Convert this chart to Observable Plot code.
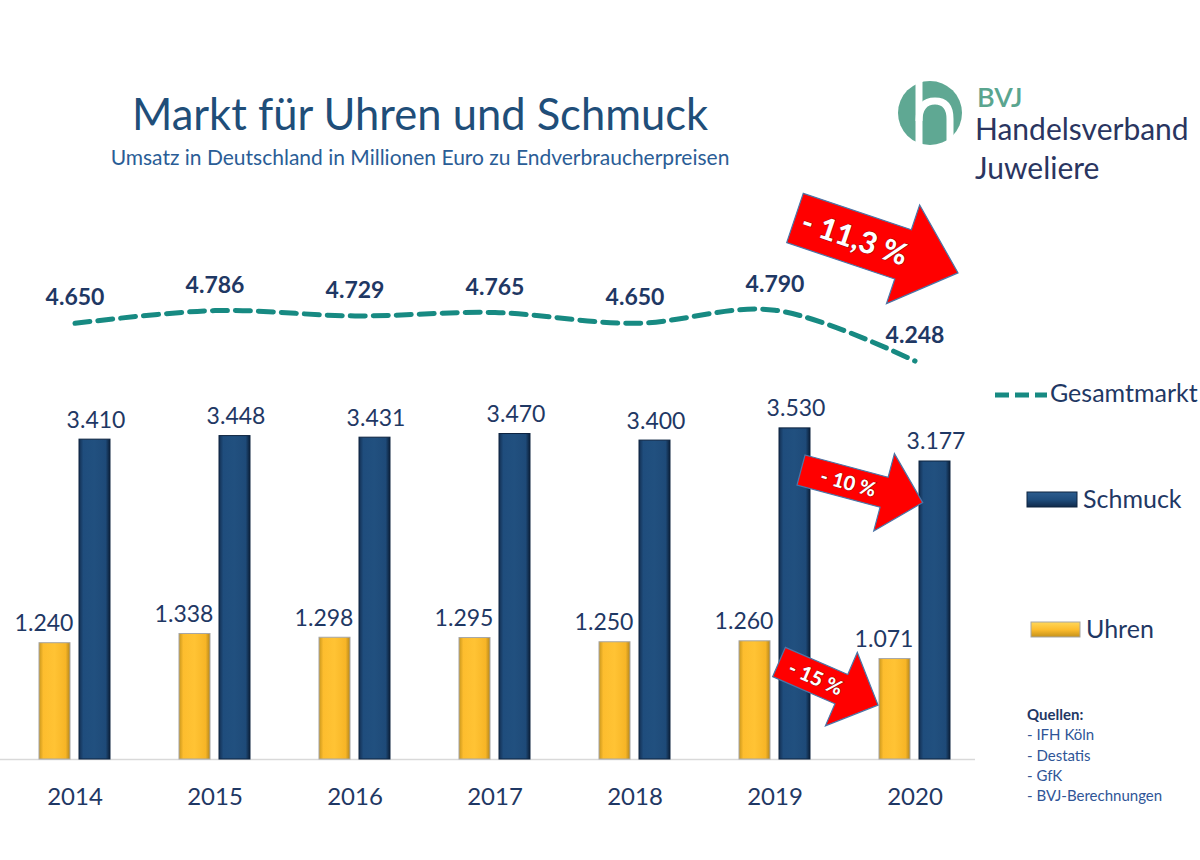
<!DOCTYPE html>
<html>
<head>
<meta charset="utf-8">
<script src="https://cdn.jsdelivr.net/npm/d3@7"></script>
<script src="https://cdn.jsdelivr.net/npm/@observablehq/plot@0.6"></script>
<style>
  html, body { margin: 0; padding: 0; background: #fff; }
  body { font-family: Lato, "Open Sans", sans-serif; }
  #wrap { position: relative; width: 1200px; height: 860px; overflow: hidden; }
  #chart { position: absolute; left: 0; top: 0; }
  .ov { position: absolute; white-space: nowrap; line-height: 1; }
  #title { left: 0; width: 840px; top: 92px; text-align: center; font-size: 43.5px; color: #1f4e79; }
  #subtitle { left: 0; width: 840px; top: 146px; text-align: center; font-size: 21px; color: #2a5d96; }
  #bvj { left: 977px; top: 83px; font-size: 27px; color: #5aa58f; font-weight: 600; }
  #hv1 { left: 975px; top: 113px; font-size: 30px; color: #2a3560; }
  #hv2 { left: 975px; top: 152px; font-size: 30px; color: #2a3560; }
  .leg { font-size: 25px; color: #1f3864; }
  #src { left: 1027px; top: 704px; font-size: 15px; color: #2f5597; line-height: 20.3px; }
  #src b { color: #1f3864; }
  #overlay { position: absolute; left: 0; top: 0; }
</style>
</head>
<body>
<div id="wrap">
  <div id="chart"></div>
  <div class="ov" id="title">Markt für Uhren und Schmuck</div>
  <div class="ov" id="subtitle">Umsatz in Deutschland in Millionen Euro zu Endverbraucherpreisen</div>
  <div class="ov" id="bvj">BVJ</div>
  <div class="ov" id="hv1">Handelsverband</div>
  <div class="ov" id="hv2">Juweliere</div>
  <div class="ov leg" style="left:1050px;top:380px;">Gesamtmarkt</div>
  <div class="ov leg" style="left:1083px;top:486px;">Schmuck</div>
  <div class="ov leg" style="left:1086px;top:616px;">Uhren</div>
  <div class="ov" id="src"><b>Quellen:</b><br>- IFH Köln<br>- Destatis<br>- GfK<br>- BVJ-Berechnungen</div>
</div>
<script>
// ---- data ----
const years   = ["2014", "2015", "2016", "2017", "2018", "2019", "2020"];
const uhren   = [1240, 1338, 1298, 1295, 1250, 1260, 1071];
const schmuck = [3410, 3448, 3431, 3470, 3400, 3530, 3177];
const gesamt  = [4650, 4786, 4729, 4765, 4650, 4790, 4248];
const seriesNames = ["Gesamtmarkt", "Schmuck", "Uhren"];
const arrowLabels = ["- 11,3 %", "- 10 %", "- 15 %"];

const de = d3.formatLocale({decimal: ",", thousands: ".", grouping: [3], currency: ["", " €"]});
const fmt = de.format(",d");

const rowsU = years.map((y, i) => ({year: y, value: uhren[i]}));
const rowsS = years.map((y, i) => ({year: y, value: schmuck[i]}));
const rowsG = years.map((y, i) => ({year: y, value: gesamt[i]}));

const navy = "#1f3864";
const teal = "#178a82";

const plot = Plot.plot({
  width: 1200,
  height: 860,
  marginLeft: 0,
  marginRight: 225,
  marginTop: 8.6,
  marginBottom: 101,
  style: {fontFamily: "Lato, 'Open Sans', sans-serif", background: "transparent", overflow: "visible"},
  x: {type: "band", domain: years, paddingInner: 0.48936, paddingOuter: 0.20213, align: 0.614, label: null},
  y: {domain: [0, 8000], axis: null},
  marks: [
    Plot.ruleY([0], {stroke: "#d9d9d9", strokeWidth: 1.5}),
    Plot.barY(rowsU, {x: "year", y: "value", insetRight: 40, fill: "url(#gradU)", stroke: "#a6a6a6", strokeWidth: 1}),
    Plot.barY(rowsS, {x: "year", y: "value", insetLeft: 40, fill: "url(#gradS)", stroke: "#0e2440", strokeWidth: 1}),
    Plot.text(rowsU, {x: "year", y: "value", text: d => fmt(d.value), dx: -31, dy: -12, lineAnchor: "bottom", fontSize: 23, fill: navy}),
    Plot.text(rowsS, {x: "year", y: "value", text: d => fmt(d.value), dx: 21, dy: -12, lineAnchor: "bottom", fontSize: 23, fill: navy}),
    Plot.line(rowsG, {x: "year", y: "value", curve: "catmull-rom", stroke: teal, strokeWidth: 5, strokeDasharray: "15,8"}),
    Plot.text(rowsG, {x: "year", y: "value", text: d => fmt(d.value), dy: -18, lineAnchor: "bottom", fontSize: 23, fontWeight: "bold", fill: navy}),
    Plot.axisX({tickSize: 0, tickPadding: 28, fontSize: 24, color: navy, label: null})
  ]
});
document.getElementById("chart").appendChild(plot);

// gradients for bevelled bars
const NS = "http://www.w3.org/2000/svg";
const defs = document.createElementNS(NS, "defs");
defs.innerHTML = `
  <linearGradient id="gradU" x1="0" x2="1" y1="0" y2="0">
    <stop offset="0" stop-color="#c9961c"/>
    <stop offset="0.14" stop-color="#fdbd2e"/>
    <stop offset="0.5" stop-color="#ffc334"/>
    <stop offset="0.86" stop-color="#f7b526"/>
    <stop offset="1" stop-color="#b5861a"/>
  </linearGradient>
  <linearGradient id="gradS" x1="0" x2="1" y1="0" y2="0">
    <stop offset="0" stop-color="#132f52"/>
    <stop offset="0.14" stop-color="#1f4d7d"/>
    <stop offset="0.5" stop-color="#21507f"/>
    <stop offset="0.86" stop-color="#1e4a78"/>
    <stop offset="1" stop-color="#0b1f38"/>
  </linearGradient>`;
plot.insertBefore(defs, plot.firstChild);

// overlay: logo, legend swatches, red annotation arrows
const ov = document.createElementNS(NS, "svg");
ov.setAttribute("id", "overlay");
ov.setAttribute("width", 1200);
ov.setAttribute("height", 860);
function arrow(tx, ty, angle, L, t, h, w, label, fs) {
  const pts = [[0,-t/2],[L-h,-t/2],[L-h,-w],[L,0],[L-h,w],[L-h,t/2],[0,t/2]].map(p => p.join(",")).join(" ");
  return `<g transform="translate(${tx},${ty}) rotate(${angle})">
    <polygon points="${pts}" fill="#ff0000" stroke="#4a76a8" stroke-width="1.2" stroke-linejoin="miter"/>
    <text x="${(L-h)/2 + 6}" y="0" dy="0.36em" text-anchor="middle" fill="#fff" font-weight="900" font-size="${fs}"
      style="paint-order:stroke; stroke:#a00000; stroke-width:1px; font-family:Lato, sans-serif;">${label}</text>
  </g>`;
}
ov.innerHTML = `
  <circle cx="930" cy="113" r="32" fill="#5fa893"/>
  <path d="M919 81 V146" stroke="#fff" stroke-width="7" fill="none"/>
  <path d="M919 121 Q919 101 935 101 Q950 101 950 119 V146" stroke="#fff" stroke-width="7" fill="none"/>
  <line x1="995" y1="395" x2="1047" y2="395" stroke="${teal}" stroke-width="5" stroke-dasharray="14,6"/>
  <rect x="1027" y="492" width="50" height="15" fill="url(#gradS2)" stroke="#0e2440"/>
  <rect x="1031" y="622" width="49" height="15" fill="url(#gradU2)" stroke="#a6a6a6"/>
  <defs>
    <linearGradient id="gradS2" x1="0" x2="0" y1="0" y2="1">
      <stop offset="0" stop-color="#2d5d8f"/><stop offset="0.5" stop-color="#1f4d7d"/><stop offset="1" stop-color="#102a4a"/>
    </linearGradient>
    <linearGradient id="gradU2" x1="0" x2="0" y1="0" y2="1">
      <stop offset="0" stop-color="#ffd75a"/><stop offset="0.5" stop-color="#fdbd2e"/><stop offset="1" stop-color="#c4911b"/>
    </linearGradient>
  </defs>
  ${arrow(795, 218, 18.6, 172, 52, 58, 52, arrowLabels[0], 30)}
  ${arrow(801, 470, 15, 126, 31, 40, 40, arrowLabels[1], 20)}
  ${arrow(779, 662, 23.5, 108, 32, 40, 40, arrowLabels[2], 20)}
`;
document.getElementById("wrap").appendChild(ov);
</script>
</body>
</html>
